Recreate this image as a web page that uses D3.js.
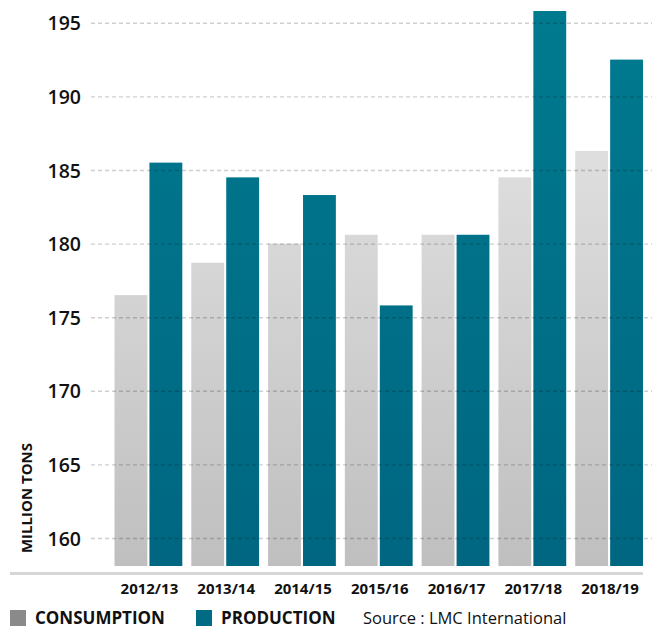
<!DOCTYPE html>
<html>
<head>
<meta charset="utf-8">
<script src="https://cdn.jsdelivr.net/npm/d3@7"></script>
<style>
  body { margin: 0; background: #fff; }
  svg { display: block; font-family: "Open Sans", sans-serif; }
</style>
</head>
<body>
<div id="chart"></div>
<script>
// data
var seasons = ["2012/13", "2013/14", "2014/15", "2015/16", "2016/17", "2017/18", "2018/19"];
var consumption = [176.5, 178.7, 180.0, 180.6, 180.6, 184.5, 186.3];
var production = [185.5, 184.5, 183.3, 175.8, 180.6, 195.8, 192.5];
var yTicks = [160, 165, 170, 175, 180, 185, 190, 195];

var W = 654, H = 628;
var margin = { left: 91, right: 2, top: 11, bottom: 62 };
var barBottom = 566;

var svg = d3.select("#chart").append("svg")
    .attr("width", W)
    .attr("height", H);

// gradients
var defs = svg.append("defs");
function grad(id, c1, c2) {
    var g = defs.append("linearGradient")
        .attr("id", id)
        .attr("gradientUnits", "userSpaceOnUse")
        .attr("x1", 0).attr("x2", 0)
        .attr("y1", 11).attr("y2", barBottom);
    g.append("stop").attr("offset", "0%").attr("stop-color", c1);
    g.append("stop").attr("offset", "100%").attr("stop-color", c2);
}
grad("gCons", "#e9e9e9", "#bfbfbf");
grad("gProd", "#007a8f", "#006681");

// scales
var y = d3.scaleLinear()
    .domain([160, 195])
    .range([538, 22.8]);

var x0 = d3.scaleBand()
    .domain(seasons)
    .range([114.5, 643])
    .paddingInner(0.117)
    .paddingOuter(0);

var x1 = d3.scaleBand()
    .domain(["cons", "prod"])
    .range([0, x0.bandwidth()])
    .paddingInner(0.06);

var rows = seasons.map(function(s, i) {
    return { season: s, cons: consumption[i], prod: production[i] };
});

// bars
var groups = svg.append("g").selectAll("g")
    .data(rows)
    .enter().append("g")
    .attr("transform", function(d) { return "translate(" + x0(d.season) + ",0)"; });

groups.selectAll("rect")
    .data(function(d) { return [{ k: "cons", v: d.cons }, { k: "prod", v: d.prod }]; })
    .enter().append("rect")
    .attr("x", function(d) { return x1(d.k); })
    .attr("y", function(d) { return y(d.v); })
    .attr("width", x1.bandwidth())
    .attr("height", function(d) { return barBottom - y(d.v); })
    .attr("fill", function(d) { return d.k == "cons" ? "url(#gCons)" : "url(#gProd)"; });

// y axis + grid (grid drawn on top of bars)
var yAxis = d3.axisLeft(y)
    .tickValues(yTicks)
    .tickSize(-(W - margin.right - margin.left))
    .tickPadding(10)
    .tickFormat(function(d) { return d; });

var ya = svg.append("g")
    .attr("transform", "translate(" + margin.left + ",0)")
    .call(yAxis);
ya.select(".domain").remove();
ya.selectAll(".tick line")
    .attr("stroke", "#000")
    .attr("stroke-opacity", 0.19)
    .attr("stroke-width", 1.4)
    .attr("stroke-dasharray", "4,3");
ya.selectAll(".tick text")
    .attr("fill", "#111")
    .attr("font-size", "19.5px")
    .attr("font-weight", 600)
    .attr("font-family", "Open Sans")
    .attr("dy", "0.36em");

// baseline
svg.append("line")
    .attr("x1", 10).attr("x2", 643)
    .attr("y1", 573.5).attr("y2", 573.5)
    .attr("stroke", "#d6d6d6")
    .attr("stroke-width", 3);

// x labels
svg.append("g").selectAll("text")
    .data(seasons)
    .enter().append("text")
    .attr("x", function(d) { return x0(d) + x0.bandwidth() / 2 + 1; })
    .attr("y", 594)
    .attr("text-anchor", "middle")
    .attr("font-size", "15px")
    .attr("font-weight", 700)
    .attr("fill", "#111")
    .text(function(d) { return d; });

// y label
svg.append("text")
    .attr("transform", "translate(32,498) rotate(-90)")
    .attr("text-anchor", "middle")
    .attr("font-size", "15px")
    .attr("font-weight", 700)
    .attr("fill", "#111")
    .text("MILLION TONS");

// legend
var legend = [
    { label: "CONSUMPTION", color: "#8a8a8a", x: 10 },
    { label: "PRODUCTION", color: "#006b85", x: 196 }
];
var lg = svg.append("g").selectAll("g")
    .data(legend)
    .enter().append("g");
lg.append("rect")
    .attr("x", function(d) { return d.x; })
    .attr("y", 610)
    .attr("width", 16)
    .attr("height", 16)
    .attr("fill", function(d) { return d.color; });
lg.append("text")
    .attr("x", function(d) { return d.x + 25; })
    .attr("y", 623.5)
    .attr("font-size", "17px")
    .attr("font-weight", 700)
    .attr("fill", "#111")
    .text(function(d) { return d.label; });

svg.append("text")
    .attr("x", 363)
    .attr("y", 623.5)
    .attr("font-size", "16.5px")
    .attr("fill", "#111")
    .text("Source : LMC International");
</script>
</body>
</html>
